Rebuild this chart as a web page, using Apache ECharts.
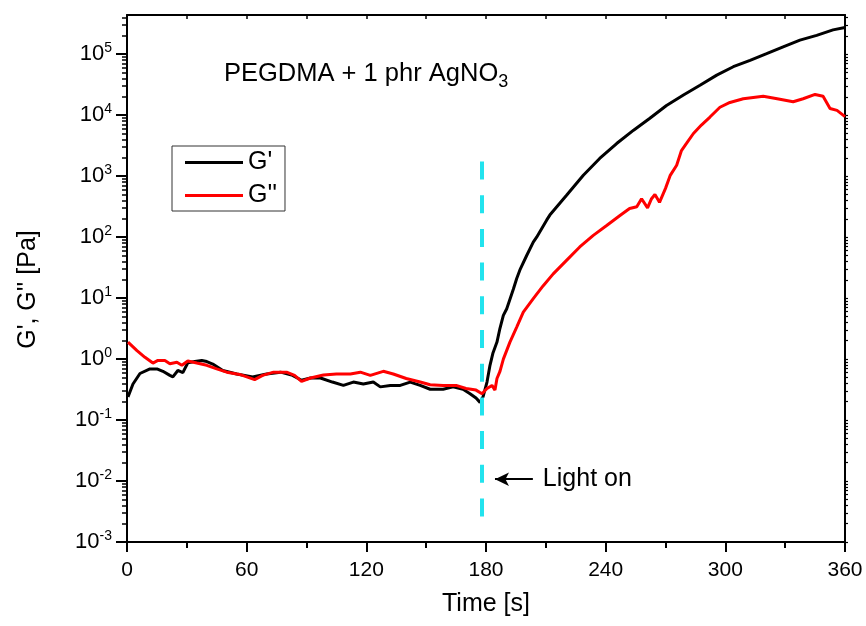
<!DOCTYPE html>
<html><head><meta charset="utf-8">
<script src="https://cdn.jsdelivr.net/npm/echarts@6/dist/echarts.min.js"></script>
<style>html,body{margin:0;padding:0;background:#fff}#c{width:866px;height:626px}</style>
</head><body><div id="c"></div>
<script>
// ---- data ----
const timeG1 = [0.5,3,6.5,11.5,15,18,21.5,23,25.5,28,30.5,34,37.5,40,43,48,55,63,70,77,83,87.5,92,97,103,108.5,113.5,118.5,123.5,127,132,137,142,147,152,158.5,163.5,168.5,172,175,177,178.5,180.5,182,183.5,185.5,187,188.7,190.4,193.7,195.4,197,200.4,203.7,205.4,210.4,212,220.5,228.8,237,245.5,254,262,270.5,279,287.3,295.7,304,312.4,320.7,329,337.4,345.8,354,360];
const valG1 = [0.24,0.39,0.58,0.69,0.69,0.63,0.54,0.51,0.65,0.60,0.87,0.91,0.95,0.91,0.83,0.65,0.57,0.51,0.57,0.61,0.54,0.45,0.49,0.49,0.42,0.37,0.42,0.39,0.42,0.35,0.37,0.37,0.42,0.37,0.32,0.32,0.35,0.32,0.27,0.23,0.195,0.24,0.42,0.79,1.26,1.9,3.2,5.2,6.7,14,21,29,50,83,100,190,230,490,1035,1950,3430,5680,8830,14450,21400,30900,45400,62400,79400,102000,132000,170000,204000,251000,275000];
const timeG2 = [0.5,5,9,13,15.5,19,21.5,25,27.5,30.5,35,40,45,50,56.5,64,68,73.5,80,84,87.5,92,98.5,105,112,117,122,128.5,133.5,140,147,152,158.5,165,170,175,178,180.5,183,184.5,185.5,187,188.7,192,195.4,198.7,203.7,208.7,213.7,220.5,227,233.8,240.5,247,252,255.6,258,261,263,264.7,267,270,272.3,275.6,278,280.6,284,288,292.3,297.3,302.3,309,319,326,334,339,345,349,352.5,356,360];
const valG2 = [1.9,1.38,1.07,0.86,0.95,0.95,0.84,0.89,0.79,0.93,0.86,0.79,0.69,0.61,0.56,0.46,0.54,0.61,0.61,0.54,0.43,0.49,0.55,0.57,0.57,0.61,0.54,0.63,0.57,0.48,0.42,0.38,0.37,0.37,0.33,0.31,0.27,0.33,0.37,0.31,0.48,0.63,1.0,1.9,3.35,5.9,9.8,16,25,42,69,107,155,224,295,316,427,302,427,500,372,631,1020,1510,2630,3470,5010,6900,9330,13500,16200,18600,20400,18600,16600,18600,21900,20400,12900,12000,9500];
const seriesNames = ["G'", "G''"];
const xTickValues = [0, 60, 120, 180, 240, 300, 360];
const yDecades = [1e-3, 1e-2, 1e-1, 1, 10, 100, 1e3, 1e4, 1e5];
const yRange = [1e-3, 4.4e5];
const xRange = [0, 360];
const lightOnTime = 178;
const lightLineRange = [0.0022, 1740];
const arrowY = 0.0107;
const arrowX = [184.5, 203.5];
const lightLabel = 'Light on';
const titleMain = 'PEGDMA + 1 phr AgNO';
const titleSub = '3';

// minor tick positions (2..9 within each decade)
const yMinor = [];
yDecades.forEach(d => { for (let k = 2; k <= 9; k++) { const v = d * k; if (v <= yRange[1]) yMinor.push(v); } });

const FF = '"Liberation Sans", Arial, sans-serif';
const chart = echarts.init(document.getElementById('c'), null, {renderer: 'canvas'});
const yLabelFmt = v => { const e = Math.round(Math.log10(v)); return '{b|10}{s|' + e + '}'; };

chart.setOption({
  animation: false,
  backgroundColor: '#fff',
  title: {
    text: '{a|' + titleMain + '}{s|' + titleSub + '}',
    left: 219, top: 52,
    textStyle: { fontWeight: 'normal', rich: {
      a: { fontSize: 25.5, fontFamily: FF, color: '#000', fontWeight: 'normal' },
      s: { fontSize: 18, fontFamily: FF, color: '#000', fontWeight: 'normal', padding: [16, 0, 0, 0] }
    } }
  },
  legend: {
    orient: 'vertical', left: 172, top: 146,
    icon: 'rect',
    itemWidth: 58, itemHeight: 3, itemGap: 8,
    padding: [4, 8, 3, 13],
    borderColor: '#333', borderWidth: 1,
    textStyle: { fontSize: 25, fontFamily: FF, color: '#000' },
    data: seriesNames
  },
  grid: { left: 127, right: 21, top: 15, bottom: 84 },
  xAxis: [
    {
      type: 'value', position: 'bottom', min: xRange[0], max: xRange[1], interval: 60,
      axisLine: { lineStyle: { color: '#000', width: 2 } },
      axisTick: { length: 10, lineStyle: { color: '#000', width: 2 } },
      minorTick: { show: true, splitNumber: 2, length: 6, lineStyle: { color: '#000', width: 2 } },
      splitLine: { show: false },
      axisLabel: { fontSize: 21, fontFamily: FF, color: '#000', margin: 18,
        customValues: xTickValues },
      name: 'Time [s]', nameLocation: 'middle', nameGap: 50,
      nameTextStyle: { fontSize: 25, fontFamily: FF, color: '#000' }
    },
    {
      type: 'value', position: 'top', min: xRange[0], max: xRange[1], interval: 30,
      axisLine: { lineStyle: { color: '#000', width: 2 } },
      axisTick: { inside: true, length: 4, lineStyle: { color: '#000', width: 1.5 } },
      axisLabel: { show: false }, splitLine: { show: false }
    }
  ],
  yAxis: [
    {
      type: 'log', logBase: 10, position: 'left', min: yRange[0], max: yRange[1],
      axisLine: { lineStyle: { color: '#000', width: 2 } },
      axisTick: { customValues: yDecades, length: 11, lineStyle: { color: '#000', width: 2 } },
      splitLine: { show: false },
      axisLabel: { customValues: yDecades, formatter: yLabelFmt, margin: 15,
        rich: {
          b: { fontSize: 22, fontFamily: FF, color: '#000' },
          s: { fontSize: 14, fontFamily: FF, color: '#000', padding: [0, 0, 12, 0] }
        } },
      name: "G', G'' [Pa]", nameLocation: 'middle', nameGap: 86,
      nameTextStyle: { fontSize: 25, fontFamily: FF, color: '#000', padding: [0, 0, 0, -22] }
    },
    {
      type: 'log', logBase: 10, position: 'left', min: yRange[0], max: yRange[1],
      axisLine: { show: false },
      axisTick: { customValues: yMinor, length: 5, lineStyle: { color: '#000', width: 1.5 } },
      axisLabel: { show: false }, splitLine: { show: false }
    },
    {
      type: 'log', logBase: 10, position: 'right', min: yRange[0], max: yRange[1],
      axisLine: { lineStyle: { color: '#000', width: 2 } },
      axisTick: { customValues: yDecades.concat(yMinor), length: 3, lineStyle: { color: '#000', width: 1.2 } },
      axisLabel: { show: false }, splitLine: { show: false }
    }
  ],
  series: [
    {
      name: seriesNames[0], type: 'line', xAxisIndex: 0, yAxisIndex: 0,
      data: timeG1.map((t, i) => [t, valG1[i]]),
      symbol: 'none', lineStyle: { color: '#000', width: 3 }, itemStyle: { color: '#000' }, z: 2
    },
    {
      name: seriesNames[1], type: 'line', xAxisIndex: 0, yAxisIndex: 0,
      data: timeG2.map((t, i) => [t, valG2[i]]),
      symbol: 'none', lineStyle: { color: '#ff0000', width: 3 }, itemStyle: { color: '#ff0000' }, z: 3,
      markLine: {
        silent: true, animation: false, symbol: ['none', 'none'],
        label: { show: false },
        data: [
          [
            { coord: [lightOnTime, lightLineRange[1]], lineStyle: { color: '#22E3EE', width: 4, type: [18, 15.7] } },
            { coord: [lightOnTime, lightLineRange[0]] }
          ],
          [
            { coord: [arrowX[0], arrowY], symbol: 'arrow', symbolSize: [10, 14],
              lineStyle: { color: '#000', width: 2, type: 'solid' },
              label: { show: true, position: 'end', formatter: lightLabel, distance: 10,
                fontSize: 25, fontFamily: FF, color: '#000' } },
            { coord: [arrowX[1], arrowY], symbol: 'none' }
          ]
        ]
      }
    }
  ]
});
</script></body></html>
